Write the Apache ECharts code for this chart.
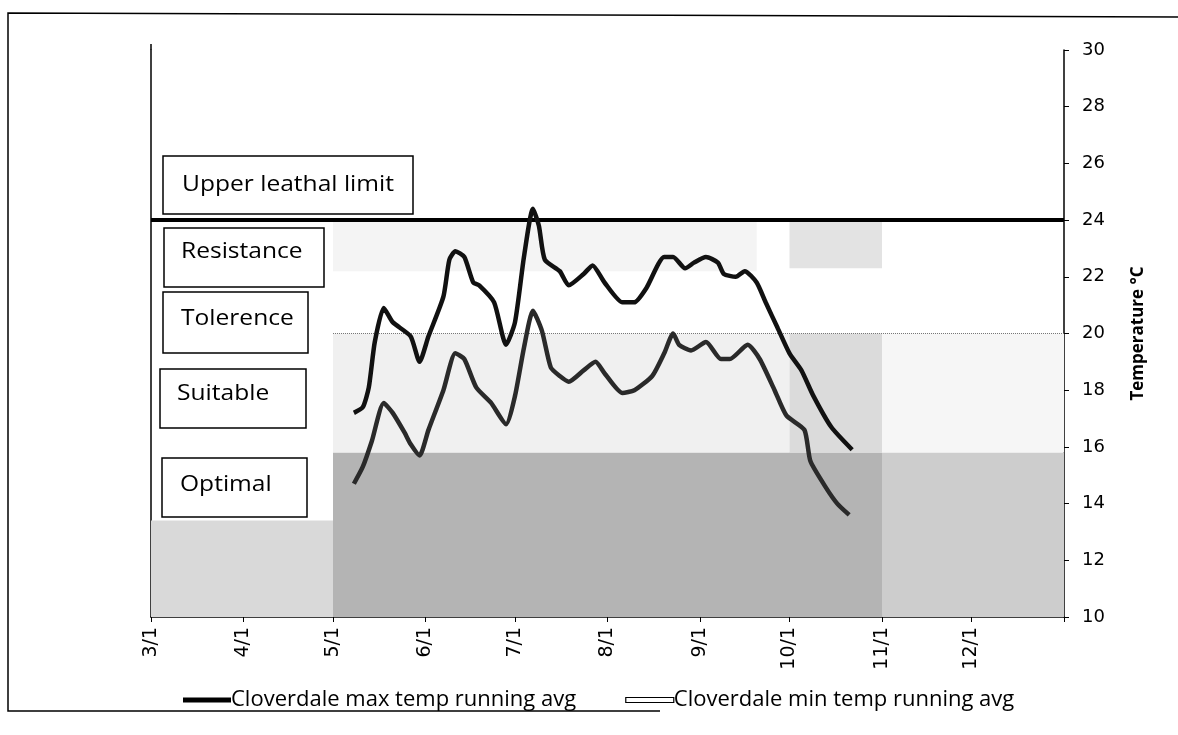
<!DOCTYPE html>
<html>
<head>
<meta charset="utf-8">
<script src="https://cdn.jsdelivr.net/npm/echarts@6/dist/echarts.min.js"></script>
<style>
html,body{margin:0;padding:0;background:#fff;}
#chart{width:1178px;height:735px;}
</style>
</head>
<body>
<div id="chart"></div>
<script>
// ---- data ----
const monthNums = [3,4,5,6,7,8,9,10,11,12];
const monthDays = [31,30,31,30,31,31,30,31,30,31];
const yTicks = [10,12,14,16,18,20,22,24,26,28,30];

const maxTemp = [
  ['5/8',17.2],['5/11',17.4],['5/13',18.1],['5/15',19.7],['5/18',20.9],['5/21',20.4],
  ['5/27',19.9],['5/30',19.0],['6/2',19.9],['6/7',21.3],['6/9',22.6],['6/11',22.9],
  ['6/14',22.7],['6/17',21.8],['6/19',21.7],['6/24',21.1],['6/28',19.6],['7/1',20.4],
  ['7/4',22.7],['7/7',24.4],['7/9',23.8],['7/11',22.6],['7/16',22.2],['7/19',21.7],
  ['7/24',22.1],['7/27',22.4],['7/31',21.8],['8/6',21.1],['8/10',21.1],['8/14',21.6],
  ['8/20',22.7],['8/23',22.7],['8/27',22.3],['8/30',22.5],['9/3',22.7],['9/7',22.5],
  ['9/9',22.1],['9/13',22.0],['9/16',22.2],['9/20',21.8],['9/23',21.1],['9/27',20.2],
  ['10/1',19.3],['10/5',18.7],['10/9',17.8],['10/15',16.7],['10/22',15.9]
];
const minTemp = [
  ['5/8',14.7],['5/11',15.3],['5/14',16.2],['5/18',17.55],['5/21',17.2],['5/25',16.5],
  ['5/27',16.1],['5/30',15.7],['6/2',16.6],['6/7',18.0],['6/11',19.3],['6/14',19.1],
  ['6/18',18.1],['6/23',17.55],['6/28',16.8],['7/1',17.8],['7/4',19.5],['7/7',20.8],
  ['7/10',20.1],['7/13',18.8],['7/16',18.5],['7/19',18.3],['7/24',18.7],['7/28',19.0],
  ['7/31',18.6],['8/6',17.9],['8/10',18.0],['8/16',18.5],['8/20',19.3],['8/23',20.0],
  ['8/25',19.6],['8/29',19.4],['9/3',19.7],['9/8',19.1],['9/11',19.1],['9/17',19.6],
  ['9/21',19.1],['9/26',18.0],['9/30',17.1],['10/6',16.6],['10/8',15.5],['10/13',14.6],
  ['10/17',14.0],['10/21',13.6]
];

const zoneLabels = ['Upper leathal limit','Resistance','Tolerence','Suitable','Optimal'];
const lethalLimit = 24;

// category days 3/1 .. 1/1
const days = [];
monthNums.forEach((m, i) => { for (let d = 1; d <= monthDays[i]; d++) days.push(m + '/' + d); });
days.push('1/1');

const chart = echarts.init(document.getElementById('chart'));
const FONT = 'Open Sans';
const showLabel = (idx, val) => val.split('/')[1] === '1' && idx !== days.length - 1;
const showTick = (idx, val) => val.split('/')[1] === '1';

function band(x1, x2, y1, y2, color) {
  return [{xAxis: x1, yAxis: y1, itemStyle: {color: color}}, {xAxis: x2, yAxis: y2}];
}

const boxes = [
  {x:163, y:156, w:250, h:58},
  {x:164, y:228, w:160, h:59},
  {x:163, y:292, w:145, h:61},
  {x:160, y:369, w:146, h:59},
  {x:162, y:458, w:145, h:59}
];
const textPos = [[182,185],[181,252],[181,319],[177,394],[180,485]];

const graphics = [];
boxes.forEach((b, i) => {
  graphics.push({type:'rect', shape:{x:b.x, y:b.y, width:b.w, height:b.h}, z:100,
    style:{fill:'#fff', stroke:'#000', lineWidth:1.5}});
  graphics.push({type:'text', x:textPos[i][0], y:textPos[i][1], z:101, scaleX:1.17,
    style:{text: zoneLabels[i], fill:'#000', font:'21px "Open Sans"', textVerticalAlign:'middle', textBaseline:'middle'}});
});
graphics.push({type:'polyline', z:100, shape:{points:[[660,711],[8,711],[8,13],[1178,17]]},
  style:{stroke:'#000', lineWidth:1.5, fill:null}});
graphics.push({type:'line', z:100, shape:{x1:151, y1:44, x2:151, y2:50}, style:{stroke:'#000', lineWidth:1.5}});

chart.setOption({
  animation: false,
  textStyle: {fontFamily: FONT},
  grid: {left: 151, right: 114, top: 50, bottom: 118, containLabel: false},
  legend: {
    left: 178, top: 684, itemGap: 49, itemWidth: 48, itemHeight: 5,
    textStyle: {fontFamily: FONT, fontSize: 22, color: '#000', padding: [0,0,0,-5]},
    data: [
      {name: 'Cloverdale max temp running avg', icon: 'rect', itemStyle: {color: '#000'}},
      {name: 'Cloverdale min temp running avg', icon: 'rect', itemStyle: {color: '#fff', borderColor: '#000', borderWidth: 1.2}}
    ]
  },
  xAxis: {
    type: 'category', data: days, boundaryGap: false,
    axisLine: {lineStyle: {color: '#000', width: 1.5}},
    axisTick: {interval: showTick, length: 5, lineStyle: {color: '#000'}},
    axisLabel: {interval: showLabel, rotate: 90, margin: 10, color: '#000',
      fontFamily: 'DejaVu Sans', fontSize: 19},
    splitLine: {show: false}
  },
  yAxis: [
    {
      type: 'value', position: 'right', min: 10, max: 30, interval: 2,
      name: 'Temperature °C', nameLocation: 'middle', nameGap: 66,
      nameTextStyle: {fontFamily: FONT, fontSize: 17, fontWeight: 'bold', color: '#000'},
      axisLine: {show: true, lineStyle: {color: '#000', width: 1.5}},
      axisTick: {show: true, length: 5, lineStyle: {color: '#000'}},
      axisLabel: {color: '#000', fontFamily: 'DejaVu Sans', fontSize: 18, margin: 18},
      splitLine: {show: false}
    },
    {
      type: 'value', position: 'left', min: 10, max: 30, interval: 2,
      axisLine: {show: true, lineStyle: {color: '#000', width: 1.5}},
      axisTick: {show: false}, axisLabel: {show: false}, splitLine: {show: false}
    }
  ],
  series: [
    {
      name: 'Cloverdale max temp running avg', type: 'line', yAxisIndex: 0,
      data: maxTemp, smooth: 0.2, showSymbol: false, z: 5,
      lineStyle: {color: '#111', width: 4.5}, itemStyle: {color: '#000'},
      markArea: {
        silent: true,
        data: [
          band('3/1', '5/1', 10, 13.4, '#d9d9d9'),
          band('5/1', '11/1', 10, 15.8, '#b4b4b4'),
          band('11/1', '1/1', 10, 15.8, '#cdcdcd'),
          band('5/1', '10/1', 15.8, 20, '#f0f0f0'),
          band('10/1', '11/1', 15.8, 20, '#dbdbdb'),
          band('11/1', '1/1', 15.8, 20, '#f6f6f6'),
          band('5/1', '9/20', 22.2, 24, '#f4f4f4'),
          band('10/1', '11/1', 22.3, 24, '#e3e3e3')
        ]
      },
      markLine: {
        silent: true, symbol: 'none', label: {show: false},
        data: [
          {yAxis: lethalLimit, lineStyle: {color: '#000', width: 4, type: 'solid'}},
          [{coord: ['5/1', 20], lineStyle: {color: '#777', width: 1, type: 'dotted'}}, {coord: ['1/1', 20]}]
        ]
      }
    },
    {
      name: 'Cloverdale min temp running avg', type: 'line', yAxisIndex: 0,
      data: minTemp, smooth: 0.2, showSymbol: false, z: 5,
      lineStyle: {color: '#2a2a2a', width: 4.5}, itemStyle: {color: '#fff'}
    }
  ],
  graphic: graphics
});
</script>
</body>
</html>
